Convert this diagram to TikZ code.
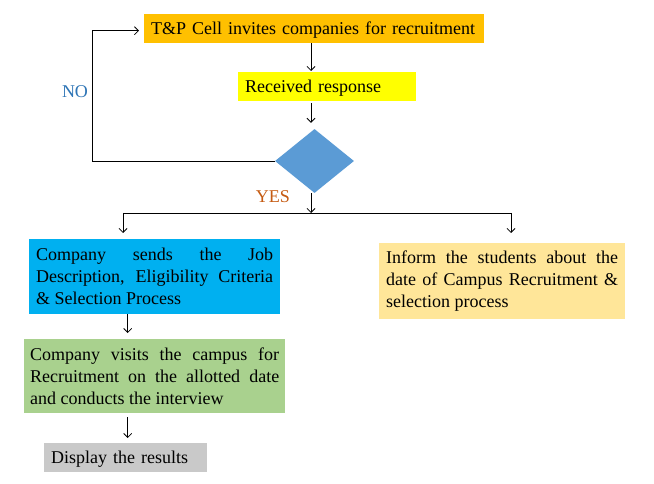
\documentclass[tikz,border=0pt]{standalone}
\usepackage{fontspec}
\setmainfont{Liberation Serif}
\usetikzlibrary{arrows.meta,shapes.geometric}
\definecolor{cOrange}{HTML}{FFC000}
\definecolor{cYellow}{HTML}{FFFF00}
\definecolor{cDiamond}{HTML}{5B9BD5}
\definecolor{cBlue}{HTML}{00B0F0}
\definecolor{cGreen}{HTML}{A9D18E}
\definecolor{cLight}{HTML}{FFE699}
\definecolor{cGray}{HTML}{C9C9C9}
\definecolor{cNo}{HTML}{2E75B6}
\definecolor{cYes}{HTML}{C55A11}
\newcommand{\fsz}{\fontsize{18}{22}\selectfont}
\begin{document}
\begin{tikzpicture}[x=1pt,y=-1pt,
  boxnode/.style={anchor=north west, inner xsep=7pt, inner ysep=0pt, font=\fsz, align=justify},
  oneline/.style={boxnode, align=left, minimum height=29pt, text height=12.4pt, text depth=0pt},
  arr/.style={-{Straight Barb[length=4pt,width=8pt]}, line width=0.8pt},
  ln/.style={line width=0.8pt},
  lbl/.style={font=\fsz, inner sep=0pt}]
\useasboundingbox (0,0) rectangle (654,484);
% nodes
\node[oneline, fill=cOrange, text width=326pt, minimum width=340pt] (t) at (144,14) {T\&P Cell invites companies for recruitment};
\node[oneline, fill=cYellow, text width=164pt, minimum width=178pt] (r) at (238,72) {Received response};
\node[diamond, fill=cDiamond, inner sep=0pt, minimum width=79pt, minimum height=64pt] (d) at (314.5,161) {};
\node[boxnode, fill=cBlue, text width=237pt, minimum height=75pt] (b) at (29,239) {Company sends the Job\linebreak Description, Eligibility Criteria\linebreak \& Selection Process};
\node[boxnode, fill=cGreen, inner xsep=6pt, text width=249pt, minimum height=74pt] (g) at (24,339) {Company visits the campus for\linebreak Recruitment on the allotted date\linebreak and conducts the interview};
\node[oneline, fill=cGray, text width=149pt, minimum width=163pt] (s) at (44,443) {Display the results};
\node[boxnode, fill=cLight, text width=232pt, minimum height=76pt] (li) at (379,243) {Inform the students about the\linebreak date of Campus Recruitment \&\linebreak selection process};
\node[lbl, text=cNo] (no) at (75,92) {NO};
\node[lbl, text=cYes] (yes) at (273,197) {YES};
% helper coordinates
\coordinate (c1) at (311,0);
\coordinate (c2) at (127.7,0);
\coordinate (lp) at (92,161);
\coordinate (tp) at (92,30.7);
\coordinate (jl) at (123,213);
\coordinate (jr) at (511,213);
\coordinate (jm) at (311,213);
% connectors
\draw[arr, shorten >=1pt] (t.south -| c1) -- (r.north -| c1);
\draw[arr, shorten <=2pt, shorten >=6pt] (r.south -| c1) -- (d.north -| c1);
\draw[ln] (d.west) -- (lp) -- (tp);
\draw[arr, shorten >=5pt] (tp) -- (t.west |- tp);
\draw[arr] (d.south -| jm) -- (jm);
\draw[ln] (jl) -- (jr);
\draw[arr, shorten >=6pt] (jl) -- (b.north -| jl);
\draw[arr, shorten >=10pt] (jr) -- (li.north -| jr);
\draw[arr, shorten >=6pt] (b.south -| c2) -- (g.north -| c2);
\draw[arr, shorten <=4pt, shorten >=5pt] (g.south -| c2) -- (s.north -| c2);
\end{tikzpicture}
\end{document}
